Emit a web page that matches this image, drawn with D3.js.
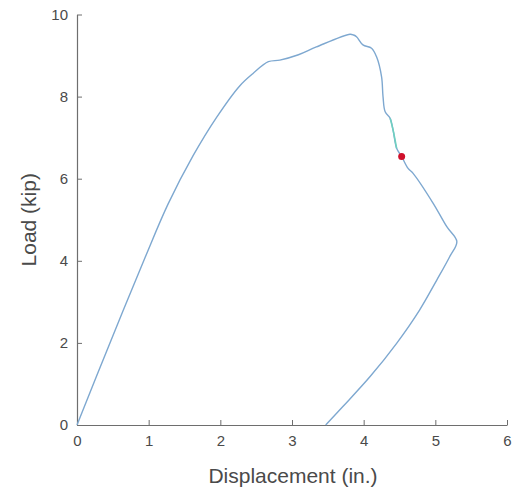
<!DOCTYPE html>
<html>
<head>
<meta charset="utf-8">
<script src="https://cdn.jsdelivr.net/npm/d3@7"></script>
<style>
  html, body { margin: 0; padding: 0; background: #ffffff; }
  svg { display: block; }
  text { font-family: "Liberation Sans", Arial, Helvetica, sans-serif; }
</style>
</head>
<body>
<svg id="chart" width="522" height="492"></svg>
<script>
// Load–displacement record (loading, softening, then unloading)
const dispIn = [0, 0.46, 0.95, 1.27, 1.62, 1.95, 2.27, 2.46, 2.67, 2.83, 3.09, 3.34, 3.81, 3.86, 3.90,
  3.99, 4.11, 4.18, 4.25, 4.27, 4.30, 4.37, 4.41, 4.46, 4.53, 4.62, 4.69, 4.97, 5.16, 5.30,
  5.20, 5.02, 4.78, 4.46, 4.09, 3.71, 3.47];
const loadKip = [0, 2.00, 4.08, 5.38, 6.56, 7.50, 8.26, 8.57, 8.85, 8.89, 9.02, 9.21, 9.52, 9.50, 9.46,
  9.26, 9.18, 8.97, 8.48, 8.00, 7.63, 7.47, 7.19, 6.74, 6.54, 6.25, 6.13, 5.40, 4.83, 4.47,
  4.10, 3.53, 2.80, 1.99, 1.18, 0.45, 0];

// Highlighted stretch of the softening branch
const segDisp = [4.37, 4.41, 4.46];
const segLoad = [7.47, 7.19, 6.74];

// Current point marker
const markDisp = [4.53];
const markLoad = [6.54];

const xTicks = [0, 1, 2, 3, 4, 5, 6];
const yTicks = [0, 2, 4, 6, 8, 10];

const svg = d3.select("#chart");
const x = d3.scaleLinear().domain([0, 6]).range([77, 507]);
const y = d3.scaleLinear().domain([0, 10]).range([425, 14.5]);

const axisColor = "#6e6e6e";
const textColor = "#4a4a4a";

// Axes (ticks drawn inward)
const gx = svg.append("g").attr("transform", `translate(0,${y(0)})`)
  .call(d3.axisBottom(x).tickValues(xTicks).tickFormat(d3.format("d"))
    .tickSizeInner(-5).tickSizeOuter(0).tickPadding(10));
const gy = svg.append("g").attr("transform", `translate(${x(0)},0)`)
  .call(d3.axisLeft(y).tickValues(yTicks).tickFormat(d3.format("d"))
    .tickSizeInner(-5).tickSizeOuter(0).tickPadding(9));

[gx, gy].forEach(g => {
  g.select(".domain").attr("stroke", axisColor).attr("stroke-width", 1.2);
  g.selectAll(".tick line").attr("stroke", axisColor).attr("stroke-width", 1);
  g.selectAll(".tick text").attr("fill", textColor).attr("font-size", 15);
});

// Curves
const pts = dispIn.map((d, i) => [d, loadKip[i]]);
const segPts = segDisp.map((d, i) => [d, segLoad[i]]);
const smooth = d3.line().x(d => x(d[0])).y(d => y(d[1])).curve(d3.curveCatmullRom.alpha(0.5));

svg.append("path").datum(pts)
  .attr("fill", "none").attr("stroke", "#7ea8d0").attr("stroke-width", 1.4)
  .attr("stroke-linejoin", "round").attr("d", smooth);

svg.append("path").datum(segPts)
  .attr("fill", "none").attr("stroke", "#6fd0c0").attr("stroke-width", 1.6)
  .attr("stroke-linejoin", "round").attr("d", smooth);

svg.selectAll("circle.mark").data(markDisp.map((d, i) => [d, markLoad[i]]))
  .enter().append("circle").attr("class", "mark")
  .attr("cx", d => x(d[0])).attr("cy", d => y(d[1])).attr("r", 3.5)
  .attr("fill", "#d0102c");

// Axis titles
svg.append("text").attr("x", 293).attr("y", 483)
  .attr("text-anchor", "middle").attr("font-size", 21).attr("fill", textColor)
  .text("Displacement (in.)");

svg.append("text")
  .attr("transform", `translate(36,${(y(0) + y(10)) / 2}) rotate(-90)`)
  .attr("text-anchor", "middle").attr("font-size", 21).attr("fill", textColor)
  .text("Load (kip)");
</script>
</body>
</html>
